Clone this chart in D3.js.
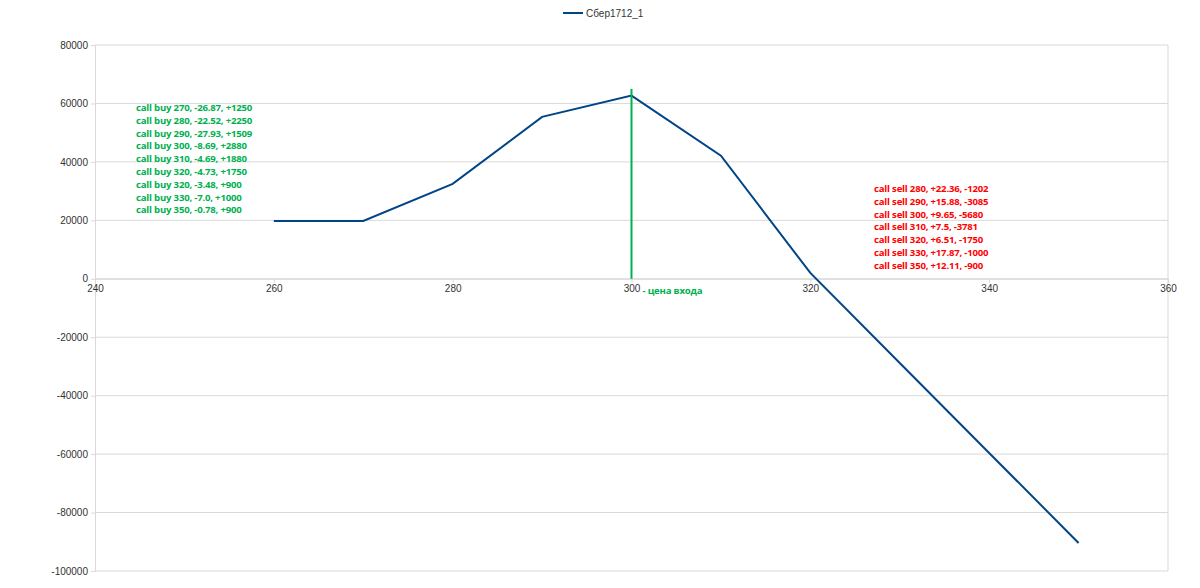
<!DOCTYPE html>
<html>
<head>
<meta charset="utf-8">
<script src="https://cdn.jsdelivr.net/npm/d3@7"></script>
<style>
  body { margin: 0; background: #fff; }
  text { font-family: "Liberation Sans", Arial, sans-serif; }
  .note { font-family: "Open Sans", sans-serif; font-weight: bold; font-size: 9.6px; letter-spacing: -0.2px; }
</style>
</head>
<body>
<div id="chart"></div>
<script>
// strike prices and payoff of the position
var strikes = [260, 270, 280, 290, 300, 310, 320, 330, 340, 350];
var payoff = [19800, 19800, 32500, 55400, 62700, 42100, 2000, -28800, -59600, -90400];

var xTicks = [240, 260, 280, 300, 320, 340, 360];
var yTicks = [80000, 60000, 40000, 20000, 0, -20000, -40000, -60000, -80000, -100000];

var entryPrice = 300;
var entryRange = [65000, 0];

var buyNotes = [
  "call buy 270, -26.87, +1250",
  "call buy 280, -22.52, +2250",
  "call buy 290, -27.93, +1509",
  "call buy 300, -8.69, +2880",
  "call buy 310, -4.69, +1880",
  "call buy 320, -4.73, +1750",
  "call buy 320, -3.48, +900",
  "call buy 330, -7.0, +1000",
  "call buy 350, -0.78, +900"
];
var sellNotes = [
  "call sell 280, +22.36, -1202",
  "call sell 290, +15.88, -3085",
  "call sell 300, +9.65, -5680",
  "call sell 310, +7.5, -3781",
  "call sell 320, +6.51, -1750",
  "call sell 330, +17.87, -1000",
  "call sell 350, +12.11, -900"
];

var svgWidth = 1200;
var svgHeight = 588;
var margin = { top: 45, right: 32, bottom: 17, left: 95 };
var width = svgWidth - margin.left - margin.right;
var height = svgHeight - margin.top - margin.bottom;

var svg = d3.select("#chart")
  .append("svg")
  .attr("width", svgWidth)
  .attr("height", svgHeight);

var chartGroup = svg.append("g")
  .attr("transform", `translate(${margin.left}, ${margin.top})`);

var xScale = d3.scaleLinear().domain([240, 360]).range([0, width]);
var yScale = d3.scaleLinear().domain([-100000, 80000]).range([height, 0]);

// horizontal gridlines
chartGroup.selectAll(".grid")
  .data(yTicks)
  .enter()
  .append("line")
  .attr("x1", 0)
  .attr("x2", width)
  .attr("y1", d => yScale(d))
  .attr("y2", d => yScale(d))
  .attr("stroke", "#d9d9d9")
  .attr("stroke-width", 1);

// right border
chartGroup.append("line")
  .attr("x1", width).attr("x2", width)
  .attr("y1", 0).attr("y2", height)
  .attr("stroke", "#d9d9d9");

// y axis
var leftAxis = d3.axisLeft(yScale).tickValues(yTicks).tickSize(4).tickPadding(3).tickFormat(d => String(d));
var yAxis = chartGroup.append("g").call(leftAxis);
yAxis.select(".domain").attr("stroke", "#d9d9d9");
yAxis.selectAll(".tick line").attr("stroke", "#d9d9d9");
yAxis.selectAll("text").attr("fill", "#333").style("font-size", "10px");

// x axis on the zero line
var bottomAxis = d3.axisBottom(xScale).tickValues(xTicks).tickSize(4).tickPadding(2).tickFormat(d => String(d));
var xAxis = chartGroup.append("g")
  .attr("transform", `translate(0, ${yScale(0)})`)
  .call(bottomAxis);
xAxis.select(".domain").attr("stroke", "#d9d9d9");
xAxis.selectAll(".tick line").attr("stroke", "#d9d9d9");
xAxis.selectAll("text").attr("fill", "#333").style("font-size", "10px");

// payoff line
var line = d3.line()
  .x((d, i) => xScale(strikes[i]))
  .y(d => yScale(d));

chartGroup.append("path")
  .datum(payoff)
  .attr("d", line)
  .attr("fill", "none")
  .attr("stroke", "#004586")
  .attr("stroke-width", 2);

// entry price marker
chartGroup.append("line")
  .attr("x1", xScale(entryPrice)).attr("x2", xScale(entryPrice))
  .attr("y1", yScale(entryRange[0])).attr("y2", yScale(entryRange[1]))
  .attr("stroke", "#00b050")
  .attr("stroke-width", 2);

chartGroup.append("text")
  .attr("class", "note")
  .attr("x", xScale(entryPrice) + 11)
  .attr("y", yScale(0) + 15)
  .attr("fill", "#00b050")
  .text("- цена входа");

// notes
chartGroup.append("g")
  .selectAll("text")
  .data(buyNotes)
  .enter()
  .append("text")
  .attr("class", "note")
  .attr("x", 41)
  .attr("y", (d, i) => 66 + i * 12.8)
  .attr("fill", "#00b050")
  .text(d => d);

chartGroup.append("g")
  .selectAll("text")
  .data(sellNotes)
  .enter()
  .append("text")
  .attr("class", "note")
  .attr("x", 779)
  .attr("y", (d, i) => 147 + i * 12.8)
  .attr("fill", "#ff0000")
  .text(d => d);

// legend
var legend = svg.append("g").attr("transform", "translate(563, 13)");
legend.append("line")
  .attr("x1", 0).attr("x2", 20)
  .attr("stroke", "#004586").attr("stroke-width", 2);
legend.append("text")
  .attr("x", 23).attr("y", 4)
  .attr("fill", "#333")
  .style("font-size", "10px")
  .text("Сбер1712_1");
</script>
</body>
</html>
